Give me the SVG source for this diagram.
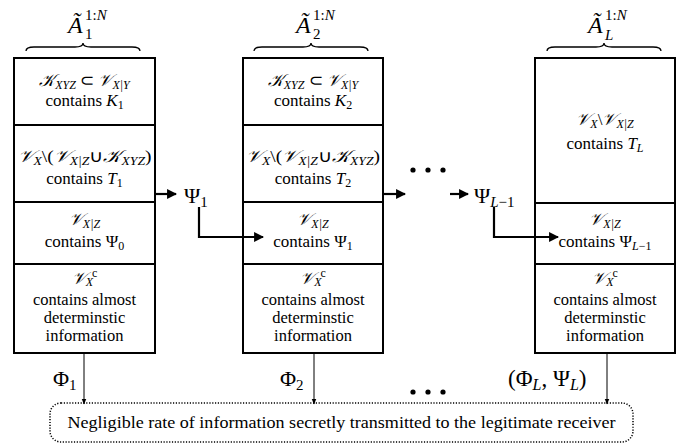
<svg xmlns="http://www.w3.org/2000/svg" width="686" height="448" viewBox="0 0 686 448">
<style>
.box{fill:#fff;stroke:#000;stroke-width:2}
.div{stroke:#000;stroke-width:2}
text{font-family:'Liberation Serif','Times New Roman',serif}
.t{font-size:17px;fill:#000;text-anchor:middle}
.p{font-size:16.5px;fill:#000;text-anchor:middle}
.m{fill:#000}
.i{font-style:italic}
.c{font-size:17px;font-style:italic}
.s{font-size:12px;font-style:italic}
.n{font-size:12px}
.brace{fill:none;stroke:#000;stroke-width:1.3}
.thick{fill:none;stroke:#000;stroke-width:2.2}
.thin{fill:none;stroke:#000;stroke-width:1}
</style>
<defs>
<marker id="ah" viewBox="0 0 10 10" refX="9" refY="5" markerWidth="4.5" markerHeight="4.5" orient="auto" markerUnits="strokeWidth"><path d="M0,0 L10,5 L0,10 z" fill="#000"/></marker>
<marker id="ahs" viewBox="0 0 10 10" refX="9" refY="5" markerWidth="6" markerHeight="6" orient="auto" markerUnits="userSpaceOnUse"><path d="M0,1 L10,5 L0,9 z" fill="#000"/></marker>
</defs>
<g id="label1">
<path class="brace" d="M26,51 Q26,47 34,47 L75,47 Q83,47 83,43 Q83,47 91,47 L132,47 Q140,47 140,51"/>
<text class="m i" x="68" y="33" font-size="24">Ã</text>
<text class="m" x="85" y="20" font-size="15">1:<tspan class="i">N</tspan></text>
<text class="m" x="85" y="39" font-size="15">1</text>
</g>
<g id="label2">
<path class="brace" d="M254,51 Q254,47 262,47 L303,47 Q311,47 311,43 Q311,47 319,47 L360,47 Q368,47 368,51"/>
<text class="m i" x="296" y="33" font-size="24">Ã</text>
<text class="m" x="313" y="20" font-size="15">1:<tspan class="i">N</tspan></text>
<text class="m" x="313" y="39" font-size="15">2</text>
</g>
<g id="label3">
<path class="brace" d="M547,51 Q547,47 555,47 L596,47 Q604,47 604,43 Q604,47 612,47 L653,47 Q661,47 661,51"/>
<text class="m i" x="588" y="33" font-size="24">Ã</text>
<text class="m" x="605" y="20" font-size="15">1:<tspan class="i">N</tspan></text>
<text class="m i" x="605" y="40" font-size="15">L</text>
</g>

<g id="block1">
<rect class="box" x="14" y="58" width="141" height="295"/>
<line class="div" x1="14" y1="125" x2="155" y2="125"/>
<line class="div" x1="14" y1="202" x2="155" y2="202"/>
<line class="div" x1="14" y1="264" x2="155" y2="264"/>
<text class="t" x="84.5" y="86"><tspan class="c">𝒦</tspan><tspan class="s" dy="2.5">XYZ</tspan><tspan dy="-2.5"> ⊂ </tspan><tspan class="c">𝒱</tspan><tspan class="s" dy="2.5">X|Y</tspan></text>
<text class="t" x="84.5" y="106">contains <tspan class="i">K</tspan><tspan class="n" dy="2.5">1</tspan></text>
<text class="t" x="84.5" y="162" textLength="134" lengthAdjust="spacingAndGlyphs"><tspan class="c">𝒱</tspan><tspan class="s" dy="2.5">X</tspan><tspan dy="-2.5">\(</tspan><tspan class="c">𝒱</tspan><tspan class="s" dy="2.5">X|Z</tspan><tspan dy="-2.5">∪</tspan><tspan class="c">𝒦</tspan><tspan class="s" dy="2.5">XYZ</tspan><tspan dy="-2.5">)</tspan></text>
<text class="t" x="84.5" y="184">contains <tspan class="i">T</tspan><tspan class="n" dy="2.5">1</tspan></text>
<text class="t" x="84.5" y="225"><tspan class="c">𝒱</tspan><tspan class="s" dy="2.5">X|Z</tspan></text>
<text class="t" x="84.5" y="247">contains Ψ<tspan class="n" dy="2.5">0</tspan></text>
<text class="t" x="84.5" y="284"><tspan class="c">𝒱</tspan><tspan class="s" dy="2">X</tspan><tspan class="n" dx="-1" dy="-9">c</tspan></text>
<text class="p" x="84.5" y="305">contains almost</text>
<text class="p" x="84.5" y="323">determinstic</text>
<text class="p" x="84.5" y="341">information</text>
</g>

<g id="block2">
<rect class="box" x="243" y="58" width="140" height="295"/>
<line class="div" x1="243" y1="125" x2="383" y2="125"/>
<line class="div" x1="243" y1="202" x2="383" y2="202"/>
<line class="div" x1="243" y1="264" x2="383" y2="264"/>
<text class="t" x="313" y="86"><tspan class="c">𝒦</tspan><tspan class="s" dy="2.5">XYZ</tspan><tspan dy="-2.5"> ⊂ </tspan><tspan class="c">𝒱</tspan><tspan class="s" dy="2.5">X|Y</tspan></text>
<text class="t" x="313" y="106">contains <tspan class="i">K</tspan><tspan class="n" dy="2.5">2</tspan></text>
<text class="t" x="313" y="162" textLength="134" lengthAdjust="spacingAndGlyphs"><tspan class="c">𝒱</tspan><tspan class="s" dy="2.5">X</tspan><tspan dy="-2.5">\(</tspan><tspan class="c">𝒱</tspan><tspan class="s" dy="2.5">X|Z</tspan><tspan dy="-2.5">∪</tspan><tspan class="c">𝒦</tspan><tspan class="s" dy="2.5">XYZ</tspan><tspan dy="-2.5">)</tspan></text>
<text class="t" x="313" y="184">contains <tspan class="i">T</tspan><tspan class="n" dy="2.5">2</tspan></text>
<text class="t" x="313" y="225"><tspan class="c">𝒱</tspan><tspan class="s" dy="2.5">X|Z</tspan></text>
<text class="t" x="313" y="247">contains Ψ<tspan class="n" dy="2.5">1</tspan></text>
<text class="t" x="313" y="284"><tspan class="c">𝒱</tspan><tspan class="s" dy="2">X</tspan><tspan class="n" dx="-1" dy="-9">c</tspan></text>
<text class="p" x="313" y="305">contains almost</text>
<text class="p" x="313" y="323">determinstic</text>
<text class="p" x="313" y="341">information</text>
</g>

<g id="block3">
<rect class="box" x="535" y="58" width="140" height="295"/>
<line class="div" x1="535" y1="203" x2="675" y2="203"/>
<line class="div" x1="535" y1="264" x2="675" y2="264"/>
<text class="t" x="605" y="125"><tspan class="c">𝒱</tspan><tspan class="s" dy="2.5">X</tspan><tspan dy="-2.5">\</tspan><tspan class="c">𝒱</tspan><tspan class="s" dy="2.5">X|Z</tspan></text>
<text class="t" x="605" y="149">contains <tspan class="i">T</tspan><tspan class="s" dy="2.5">L</tspan></text>
<text class="t" x="605" y="225"><tspan class="c">𝒱</tspan><tspan class="s" dy="2.5">X|Z</tspan></text>
<text class="t" x="605" y="247">contains Ψ<tspan class="s" dy="2.5">L</tspan><tspan class="n">−1</tspan></text>
<text class="t" x="605" y="284"><tspan class="c">𝒱</tspan><tspan class="s" dy="2">X</tspan><tspan class="n" dx="-1" dy="-9">c</tspan></text>
<text class="p" x="605" y="305">contains almost</text>
<text class="p" x="605" y="323">determinstic</text>
<text class="p" x="605" y="341">information</text>
</g>

<g id="psi1">
<text class="m" x="184" y="203" font-size="22">Ψ<tspan font-size="15" dy="4">1</tspan></text>
</g>
<g id="psiL1">
<text class="m" x="474" y="203" font-size="22">Ψ<tspan class="i" font-size="15" dy="4">L</tspan><tspan font-size="15">−1</tspan></text>
</g>
<g id="dots-top">
<circle cx="413" cy="170" r="2.6"/>
<circle cx="428" cy="170" r="2.6"/>
<circle cx="443" cy="170" r="2.6"/>
</g>
<g id="dots-bottom">
<circle cx="413" cy="392" r="2.6"/>
<circle cx="428" cy="392" r="2.6"/>
<circle cx="443" cy="392" r="2.6"/>
</g>

<g id="phi-labels">
<text class="m" x="53" y="386" font-size="22">Φ<tspan font-size="15" dy="4">1</tspan></text>
<text class="m" x="280" y="386" font-size="22">Φ<tspan font-size="15" dy="4">2</tspan></text>
<text class="m" x="508" y="386" font-size="23">(Φ<tspan class="i" font-size="16" dy="4">L</tspan><tspan dy="-4">, Ψ</tspan><tspan class="i" font-size="16" dy="4">L</tspan><tspan dy="-4">)</tspan></text>
</g>

<g id="receiver">
<rect x="50" y="403" width="583" height="39" rx="11" ry="11" fill="none" stroke="#000" stroke-width="1.5" stroke-dasharray="1.2 1.6"/>
<text class="t" x="341.5" y="428" font-size="15.5" textLength="548" lengthAdjust="spacingAndGlyphs">Negligible rate of information secretly transmitted to the legitimate receiver</text>
</g>

<g id="connectors">
<line class="thick" x1="156" y1="194" x2="176" y2="194" marker-end="url(#ah)"/>
<polyline class="thick" points="199,207 199,237 263,237" marker-end="url(#ah)"/>
<line class="thick" x1="384" y1="194" x2="405" y2="194" marker-end="url(#ah)"/>
<line class="thick" x1="450" y1="194" x2="468" y2="194" marker-end="url(#ah)"/>
<polyline class="thick" points="494,207 494,237 558,237" marker-end="url(#ah)"/>
<line class="thin" x1="84" y1="354" x2="84" y2="404" marker-end="url(#ahs)"/>
<line class="thin" x1="314" y1="354" x2="314" y2="404" marker-end="url(#ahs)"/>
<line class="thin" x1="607" y1="354" x2="607" y2="404" marker-end="url(#ahs)"/>
</g>
</svg>
